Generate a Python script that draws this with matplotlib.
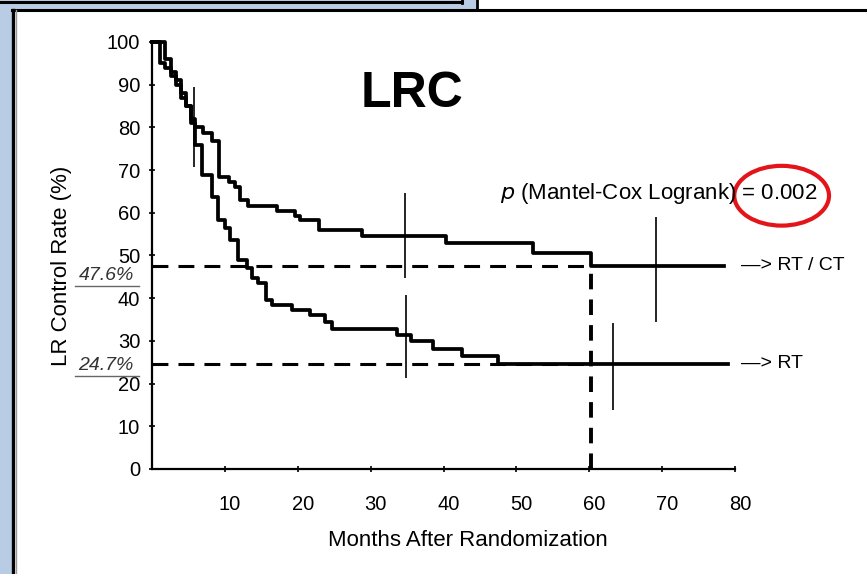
import matplotlib
matplotlib.use("Agg")
import matplotlib.pyplot as plt
import matplotlib.transforms as mtransforms
from matplotlib.patches import Rectangle, Ellipse
from matplotlib.lines import Line2D

plt.rcParams['font.family'] = ['Liberation Sans', 'DejaVu Sans']

# Kaplan-Meier steps (months, % controlled)
months_rtct = [0, 1.8, 2.6, 3.3, 4.0, 4.6, 5.3, 5.9, 7.0, 8.2, 9.2, 10.5, 11.4, 12.1,
               13.2, 17.1, 19.6, 20.3, 22.9, 28.8, 40.4, 52.3, 60.2, 78.5]
rate_rtct = [100, 96, 93, 91, 88, 85, 82, 80.2, 78.6, 76.7, 68.5, 67.3, 66.1, 63.0,
             61.7, 60.5, 59.3, 58.3, 56.0, 54.5, 53.0, 50.7, 47.6, 47.6]

months_rt = [0, 1.1, 1.8, 2.6, 3.3, 4.0, 4.6, 5.3, 5.9, 6.8, 8.2, 9.1, 10.0, 10.7, 11.8,
             13.0, 13.7, 14.6, 15.7, 16.4, 19.2, 21.7, 23.7, 24.7, 33.6, 35.5, 38.6,
             42.5, 47.5, 79.0]
rate_rt = [100, 95, 94, 92, 90, 87, 85, 81, 75.9, 68.9, 63.8, 58.3, 56.4, 53.6, 48.9,
           47.0, 44.7, 43.5, 39.6, 38.4, 37.2, 36.1, 34.5, 32.9, 31.4, 29.9, 28.1,
           26.5, 24.7, 24.7]

# censoring marks: month, low, high
cens_month = [5.7, 34.7, 34.8, 63.3, 69.1]
cens_low = [70.8, 44.7, 21.2, 13.8, 34.5]
cens_high = [89.5, 64.6, 40.7, 34.1, 59.1]

five_year = 60.2
rate_5y = [47.6, 24.7]
rate_5y_labels = ['47.6%', '24.7%']
group_labels = ['—> RT / CT', '—> RT']

W, H = 867, 574
fig = plt.figure(figsize=(W / 100, H / 100), dpi=100)
fig.patch.set_facecolor('white')


def fx(x):
    return x / W


def fy(y):
    return 1 - y / H


# slide frame around the picture
blue = '#b8cce4'
fig.add_artist(Rectangle((0, 0), fx(12), 1, transform=fig.transFigure, color=blue, lw=0))
fig.add_artist(Rectangle((0, fy(9.5)), fx(477), 1 - fy(9.5), transform=fig.transFigure, color=blue, lw=0))
frame_lines = [
    ([0, 462], [2, 2], 2.2),
    ([462, 462], [0, 3], 2.0),
    ([477, 477], [0, 9.5], 2.0),
    ([12, 867], [9.5, 9.5], 2.2),
    ([13, 13], [9.5, 574], 2.4),
]
for xs, ys, lw in frame_lines:
    fig.add_artist(Line2D([fx(v) for v in xs], [fy(v) for v in ys],
                          transform=fig.transFigure, color='black', lw=lw))
fig.add_artist(Line2D([fx(15.5)] * 2, [fy(9.5), 0], transform=fig.transFigure, color='#9a9a9a', lw=1))

ax = fig.add_axes([fx(152), fy(469), fx(735) - fx(152), fy(42) - fy(469)])
ax.set_xlim(0, 80)
ax.set_ylim(0, 100)
for s in ['top', 'right']:
    ax.spines[s].set_visible(False)
for s in ['left', 'bottom']:
    ax.spines[s].set_linewidth(1.6)

ax.step(months_rtct, rate_rtct, where='post', color='black', lw=2.7, clip_on=False)
ax.step(months_rt, rate_rt, where='post', color='black', lw=2.7, clip_on=False)
ax.vlines(cens_month, cens_low, cens_high, color='black', lw=1.2)

for r in rate_5y:
    ax.plot([0, five_year], [r, r], color='black', lw=2.2, dashes=(5.2, 3.3))
ax.plot([five_year, five_year], [0, rate_5y[0]], color='black', lw=2.8, dashes=(4.0, 2.6))

ax.set_xticks(range(10, 90, 10))
ax.set_yticks(range(0, 110, 10))
ax.tick_params(axis='y', direction='inout', length=5, width=1.2, labelsize=14.5, pad=6)
ax.tick_params(axis='x', direction='inout', length=4, width=1.2, labelsize=14.5, pad=17)
# scanned labels sit a little right of their ticks
shift = mtransforms.ScaledTranslation(0.05, 0, fig.dpi_scale_trans)
for t in ax.get_xticklabels():
    t.set_transform(t.get_transform() + shift)

ax.set_xlabel('Months After Randomization', fontsize=16)
ax.set_ylabel('LR Control Rate (%)', fontsize=16)
ax.xaxis.set_label_coords(0.542, -0.143)
ax.yaxis.set_label_coords(-0.137, 0.475)

ax.text(35.7, 87.8, 'LRC', fontsize=36, fontweight='bold', ha='center', va='center')
ax.text(47.7, 64.6, r'$\it{p}$ (Mantel-Cox Logrank) = 0.002', fontsize=16, ha='left',
        va='center', clip_on=False)
ax.add_patch(Ellipse((86.4, 64.0), 13.0, 14.0, fill=False, edgecolor='#e3151b', lw=3,
                     clip_on=False))

for r, lab in zip(rate_5y, group_labels):
    ax.text(80.8, r, lab, fontsize=14, ha='left', va='center', clip_on=False)

label_y = [45.4, 24.3]
under_y = [42.8, 21.8]
for ly, uy, lab in zip(label_y, under_y, rate_5y_labels):
    ax.text(-6.3, ly, lab, fontsize=14, style='italic', color='#333333', ha='center',
            va='center', clip_on=False)
    ax.plot([-10.5, -1.8], [uy, uy], color='#666666', lw=1.0, clip_on=False)

fig.savefig('out.png', dpi=100)
